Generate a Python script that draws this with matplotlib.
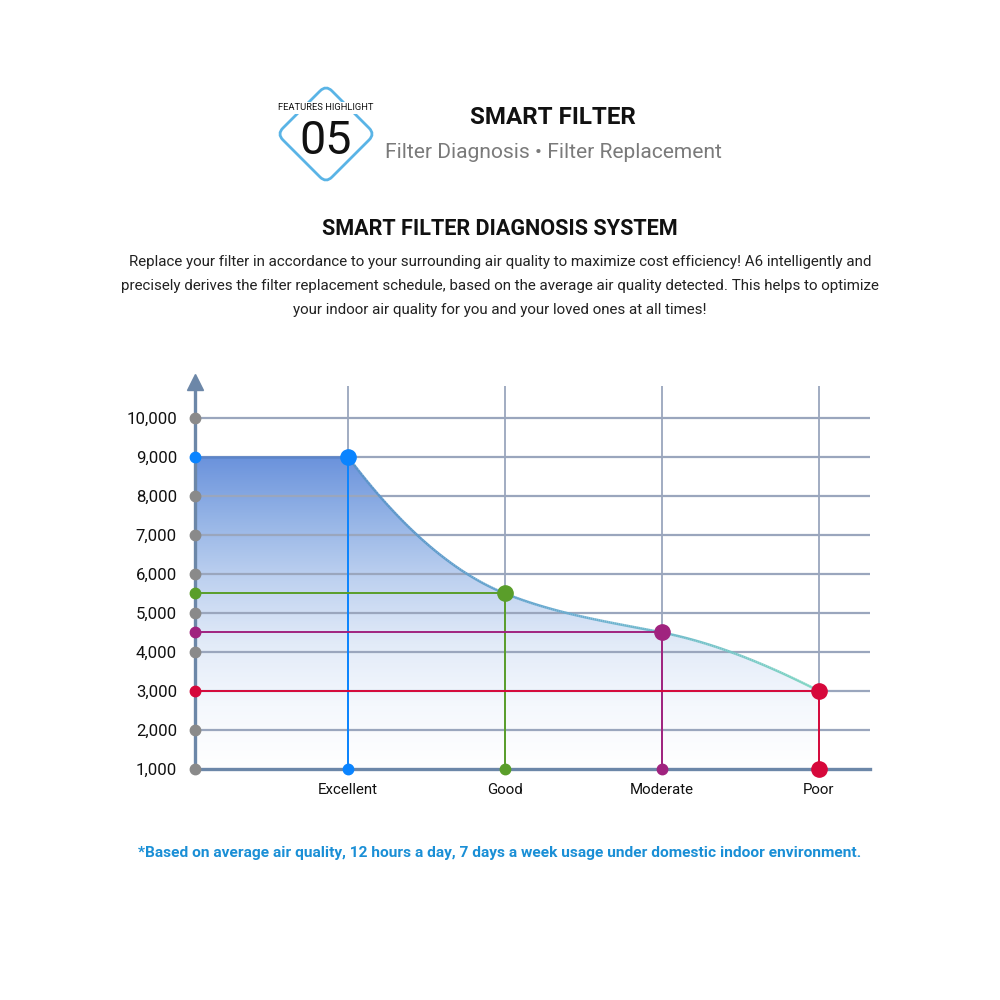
import numpy as np
import matplotlib
matplotlib.use("Agg")
import matplotlib.pyplot as plt
from matplotlib.path import Path
from matplotlib.patches import PathPatch, Polygon
from matplotlib.collections import LineCollection
from matplotlib.colors import LinearSegmentedColormap

FONT = ['Roboto', 'DejaVu Sans']
plt.rcParams['font.family'] = FONT

# ---------------- data ----------------
categories = ["Excellent", "Good", "Moderate", "Poor"]
lifetime_hours = [9000, 5500, 4500, 3000]
curve_slopes = [-5350, -1610, -800, -2050]   # tangent of drawn curve at each point (per category step)
point_colors = ["#0a84ff", "#5a9e2a", "#a0237f", "#d6083b"]
ytick_values = [1000, 2000, 3000, 4000, 5000, 6000, 7000, 8000, 9000, 10000]
ytick_labels = ["1,000", "2,000", "3,000", "4,000", "5,000", "6,000", "7,000", "8,000", "9,000", "10,000"]

title_main = "SMART FILTER"
title_sub = "Filter Diagnosis \u2022 Filter Replacement"
badge_top = "FEATURES HIGHLIGHT"
badge_num = "05"
chart_title = "SMART FILTER DIAGNOSIS SYSTEM"
body_lines = [
    "Replace your filter in accordance to your surrounding air quality to maximize cost efficiency! A6 intelligently and",
    "precisely derives the filter replacement schedule, based on the average air quality detected. This helps to optimize",
    "your indoor air quality for you and your loved ones at all times!",
]
footnote = "*Based on average air quality, 12 hours a day, 7 days a week usage under domestic indoor environment."

# ---------------- figure ----------------
fig = plt.figure(figsize=(10, 10), dpi=100)
fig.patch.set_facecolor("white")
renderer = fig.canvas.get_renderer()


def fit_size(s, width_px, **kw):
    t = fig.text(0, 0, s, fontsize=10, **kw)
    w = t.get_window_extent(renderer=renderer).width
    t.remove()
    return 10 * width_px / w


def ftext(xpx, ypx, s, size, **kw):
    return fig.text(xpx / 1000, 1 - ypx / 1000, s, fontsize=size, ha="center", va="center", **kw)


# badge diamond with rounded corners (figure coords)
cx, cy, hw, hh, r = 0.326, 0.866, 0.049, 0.049, 0.12
corners = [(cx, cy + hh), (cx + hw, cy), (cx, cy - hh), (cx - hw, cy)]
verts, codes = [], []
n = len(corners)
for i in range(n):
    p = np.array(corners[i]); pp = np.array(corners[i - 1]); pn = np.array(corners[(i + 1) % n])
    a = p + (pp - p) * r
    b = p + (pn - p) * r
    verts.append(tuple(a)); codes.append(Path.MOVETO if i == 0 else Path.LINETO)
    verts += [tuple(p), tuple(b)]; codes += [Path.CURVE3, Path.CURVE3]
p0 = np.array(corners[0]); a0 = p0 + (np.array(corners[-1]) - p0) * r
verts.append(tuple(a0)); codes.append(Path.LINETO)
fig.patches.append(PathPatch(Path(verts, codes), transform=fig.transFigure, fill=False,
                             edgecolor="#5ab4e6", lw=2.0))
ftext(326, 108, badge_top, fit_size(badge_top, 95), color="#111",
      bbox=dict(facecolor="white", edgecolor="none", pad=1.0))
ftext(326, 141, badge_num, fit_size(badge_num, 52), color="#111")
ftext(553, 117, title_main, fit_size(title_main, 165, fontweight="bold"), fontweight="bold", color="#111")
ftext(553, 153, title_sub, fit_size(title_sub, 337), color="#7a7a7a")

ftext(500, 229, chart_title, fit_size(chart_title, 356, fontweight="bold"), fontweight="bold", color="#111")
body_fs = fit_size(body_lines[1], 761)
for i, line in enumerate(body_lines):
    ftext(500, 262 + i * 24, line, body_fs, color="#222")
ftext(500, 853, footnote, fit_size(footnote, 724, fontweight="bold"), fontweight="bold", color="#1a8fd6")

# ---------------- chart ----------------
x0, x1 = 0.025, 4.325
y0, y1 = 1000, 10820
ax = fig.add_axes([0.195, 0.231, 0.675, 0.383])
ax.set_xlim(x0, x1)
ax.set_ylim(y0, y1)
ax.set_facecolor("none")
xs = np.arange(1, len(categories) + 1)


# smooth curve via cubic Hermite between data points
def hermite(xa, xb, ya, yb, ma, mb, num=80):
    t = np.linspace(0, 1, num)
    d = xb - xa
    h00 = 2 * t**3 - 3 * t**2 + 1
    h10 = t**3 - 2 * t**2 + t
    h01 = -2 * t**3 + 3 * t**2
    h11 = t**3 - t**2
    return xa + d * t, h00 * ya + h10 * d * ma + h01 * yb + h11 * d * mb


cx_list, cy_list = [], []
for i in range(len(xs) - 1):
    hx, hy = hermite(xs[i], xs[i + 1], lifetime_hours[i], lifetime_hours[i + 1],
                     curve_slopes[i], curve_slopes[i + 1])
    cx_list.append(hx); cy_list.append(hy)
curve_x = np.concatenate(cx_list)
curve_y = np.concatenate(cy_list)

# gradient fill under curve
poly_x = np.concatenate([[x0, xs[0]], curve_x, [xs[-1], x0]])
poly_y = np.concatenate([[lifetime_hours[0], lifetime_hours[0]], curve_y, [y0, y0]])
poly = Polygon(np.column_stack([poly_x, poly_y]), closed=True, facecolor="none", edgecolor="none")
ax.add_patch(poly)
cmap = LinearSegmentedColormap.from_list("fillgrad", [
    (0.0, "#ffffff"), (0.2, "#f5f8fd"), (0.4, "#e2ebf8"), (0.6, "#bfd2f0"),
    (0.8, "#95b4e6"), (1.0, "#6a92dc")])
grad = np.linspace(0, 1, 256).reshape(-1, 1)
im = ax.imshow(grad, extent=(x0, x1, y0, 9000), origin="lower", aspect="auto",
               cmap=cmap, zorder=0.5, interpolation="bicubic")
im.set_clip_path(poly)
ax.set_xlim(x0, x1); ax.set_ylim(y0, y1)

# grid lines
grid_c = "#9aa6bd"
ax.hlines(ytick_values[1:], x0, x1, colors=grid_c, lw=1.6, zorder=1)
ax.vlines(xs, y0, y1, colors=grid_c, lw=1.3, zorder=1)

# curve with color gradient
pts = np.column_stack([curve_x, curve_y]).reshape(-1, 1, 2)
segs = np.concatenate([pts[:-1], pts[1:]], axis=1)
ccmap = LinearSegmentedColormap.from_list("curve", ["#5b93c9", "#6aaed0", "#7fd6c2"])
lc = LineCollection(segs, cmap=ccmap, linewidths=1.8, zorder=3)
lc.set_array(curve_x[:-1])
lc.set_clim(1, 4)
ax.add_collection(lc)
ax.plot([x0, xs[0]], [lifetime_hours[0], lifetime_hours[0]], color="#5b84c9", lw=1.8, zorder=3)

# colored guide lines
for x, y, c in zip(xs, lifetime_hours, point_colors):
    ax.plot([x, x], [y0, y], color=c, lw=1.4, zorder=4)
    if x > 1:
        ax.plot([x0, x], [y, y], color=c, lw=1.4, zorder=4)

# axes spines
axis_c = "#6c87a8"
for s in ["top", "right"]:
    ax.spines[s].set_visible(False)
for s in ["left", "bottom"]:
    ax.spines[s].set_color(axis_c)
    ax.spines[s].set_linewidth(2.4)
    ax.spines[s].set_zorder(5)
ax.plot([x0], [y1 + 100], marker="^", markersize=11, color=axis_c, clip_on=False, zorder=6)

# ticks
ax.set_yticks(ytick_values)
ax.set_yticklabels(ytick_labels, fontsize=fit_size("10,000", 50), color="#111")
ax.set_xticks(xs)
ax.set_xticklabels(categories, fontsize=fit_size("Excellent", 60), color="#111")
ax.tick_params(axis="both", length=0)
ax.tick_params(axis="y", pad=13)
ax.tick_params(axis="x", pad=10)

# dots on y-axis
for v in ytick_values:
    if v not in lifetime_hours:
        ax.plot([x0], [v], "o", color="#8a8a8a", markersize=7.5, clip_on=False, zorder=7)
for y, c in zip(lifetime_hours, point_colors):
    ax.plot([x0], [y], "o", color=c, markersize=7.5, clip_on=False, zorder=7)

# dots at data points and x-axis
for i, (x, y, c) in enumerate(zip(xs, lifetime_hours, point_colors)):
    ax.plot([x], [y], "o", color=c, markersize=11, zorder=8)
    ax.plot([x], [y0], "o", color=c, markersize=11 if i == len(xs) - 1 else 7.5,
            clip_on=False, zorder=8)

fig.savefig("out.png", dpi=100, facecolor="white")
